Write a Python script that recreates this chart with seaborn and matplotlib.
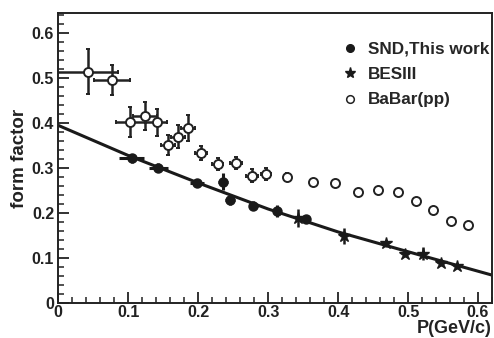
import numpy as np
import matplotlib
matplotlib.use("Agg")
import matplotlib.pyplot as plt
from matplotlib.lines import Line2D
from matplotlib.ticker import MultipleLocator, FuncFormatter
import seaborn as sns

# BaBar (pp) points
bb_x = [0.042, 0.077, 0.103, 0.124, 0.141, 0.157, 0.171, 0.185, 0.204, 0.228, 0.254, 0.277,
        0.297, 0.327, 0.364, 0.396, 0.428, 0.457, 0.485, 0.511, 0.536, 0.562, 0.585]
bb_y = [0.514, 0.496, 0.402, 0.416, 0.402, 0.351, 0.370, 0.389, 0.333, 0.309, 0.311, 0.283,
        0.287, 0.280, 0.270, 0.266, 0.246, 0.251, 0.246, 0.227, 0.206, 0.183, 0.174]
bb_xerr = [0.044, 0.026, 0.021, 0.017, 0.015, 0.010, 0.010, 0.010, 0.008, 0.008, 0.008, 0.008,
           0.007, 0.004, 0, 0, 0, 0, 0, 0, 0, 0, 0]
bb_yerr = [0.050, 0.034, 0.033, 0.031, 0.030, 0.022, 0.025, 0.028, 0.016, 0.013, 0.013, 0.014,
           0.013, 0.008, 0.006, 0.006, 0.005, 0.005, 0.005, 0.005, 0.005, 0.005, 0.005]

# SND, this work
snd_x = [0.105, 0.143, 0.198, 0.236, 0.245, 0.279, 0.313, 0.354]
snd_y = [0.322, 0.301, 0.266, 0.270, 0.229, 0.216, 0.205, 0.186]
snd_xerr = [0.018, 0.014, 0.010, 0.007, 0.007, 0.007, 0.006, 0.006]
snd_yerr = [0.010, 0.010, 0.008, 0.018, 0.010, 0.010, 0.014, 0.008]

# BESIII
bes_x = [0.343, 0.409, 0.468, 0.496, 0.522, 0.547, 0.570]
bes_y = [0.188, 0.149, 0.133, 0.109, 0.110, 0.090, 0.082]
bes_yerr = [0.020, 0.018, 0.008, 0.006, 0.015, 0.008, 0.006]

# fit curve
curve_x = [0.0, 0.1, 0.2, 0.3, 0.4, 0.5, 0.62]
curve_y = [0.395, 0.328, 0.267, 0.209, 0.158, 0.114, 0.062]

legend_labels = ['SND,This work', 'BESIII', 'BaBar(pp)']

sns.set_style("ticks")
plt.rcParams['font.family'] = ['Liberation Sans', 'DejaVu Sans']
plt.rcParams['font.weight'] = 'bold'

fig = plt.figure(figsize=(4.94, 3.38), dpi=100)
ax = fig.add_axes([0.118, 0.1036, 0.878, 0.858])

sns.lineplot(x=curve_x, y=curve_y, ax=ax, color='#1a1a1a', linewidth=2.2, zorder=2)

ax.errorbar(bb_x, bb_y, xerr=bb_xerr, yerr=bb_yerr, fmt='o', color='#222222',
            mfc='white', mec='#222222', ms=6.5, mew=1.4, elinewidth=1.8, capsize=1.5,
            capthick=1.8, zorder=3)
ax.errorbar(snd_x, snd_y, xerr=snd_xerr, yerr=snd_yerr, fmt='o', color='#1a1a1a',
            ms=6.5, elinewidth=2.2, capsize=0, zorder=4)
ax.errorbar(bes_x, bes_y, yerr=bes_yerr, fmt='*', color='#1a1a1a',
            ms=9, elinewidth=1.8, capsize=0, zorder=4)

ax.set_xlim(0, 0.62)
ax.set_ylim(0, 0.645)
ax.xaxis.set_major_locator(MultipleLocator(0.1))
ax.xaxis.set_minor_locator(MultipleLocator(0.02))
ax.yaxis.set_major_locator(MultipleLocator(0.1))
ax.yaxis.set_minor_locator(MultipleLocator(0.02))
fmt = FuncFormatter(lambda v, p: '0' if abs(v) < 1e-9 else f'{v:.1f}')
ax.xaxis.set_major_formatter(fmt)
ax.yaxis.set_major_formatter(fmt)
ax.tick_params(axis='both', which='major', direction='in', length=8, width=1.3,
               labelsize=11.5, colors='#222222', pad=3)
ax.tick_params(axis='x', which='major', pad=1.5)
ax.tick_params(axis='both', which='minor', direction='in', length=4, width=1.1,
               colors='#222222')
for lab in ax.get_xticklabels() + ax.get_yticklabels():
    lab.set_fontweight('bold')
for s in ax.spines.values():
    s.set_linewidth(1.4)
    s.set_color('#222222')

ax.set_ylabel('form factor', fontsize=13.5, fontweight='bold', color='#222222')
ax.yaxis.set_label_coords(-0.07, 0.5)
ax.set_xlabel('P(GeV/c)', fontsize=13, fontweight='bold', color='#222222')
ax.xaxis.set_label_coords(1.0, -0.103)
ax.xaxis.label.set_horizontalalignment('right')
ax.xaxis.label.set_verticalalignment('baseline')

handles = [
    Line2D([], [], marker='o', ls='none', color='#1a1a1a', ms=5.5),
    Line2D([], [], marker='*', ls='none', color='#1a1a1a', ms=8),
    Line2D([], [], marker='o', ls='none', color='#222222', mfc='white', ms=5.5, mew=1.1),
]
ax.legend(handles, legend_labels, loc='upper left',
          bbox_to_anchor=(0.653, 0.90), frameon=False, handlelength=1.0,
          borderpad=0, borderaxespad=0, handletextpad=0.56, labelspacing=0.6,
          prop={'weight': 'bold', 'size': 12.3})

fig.savefig('out.png', dpi=100)
